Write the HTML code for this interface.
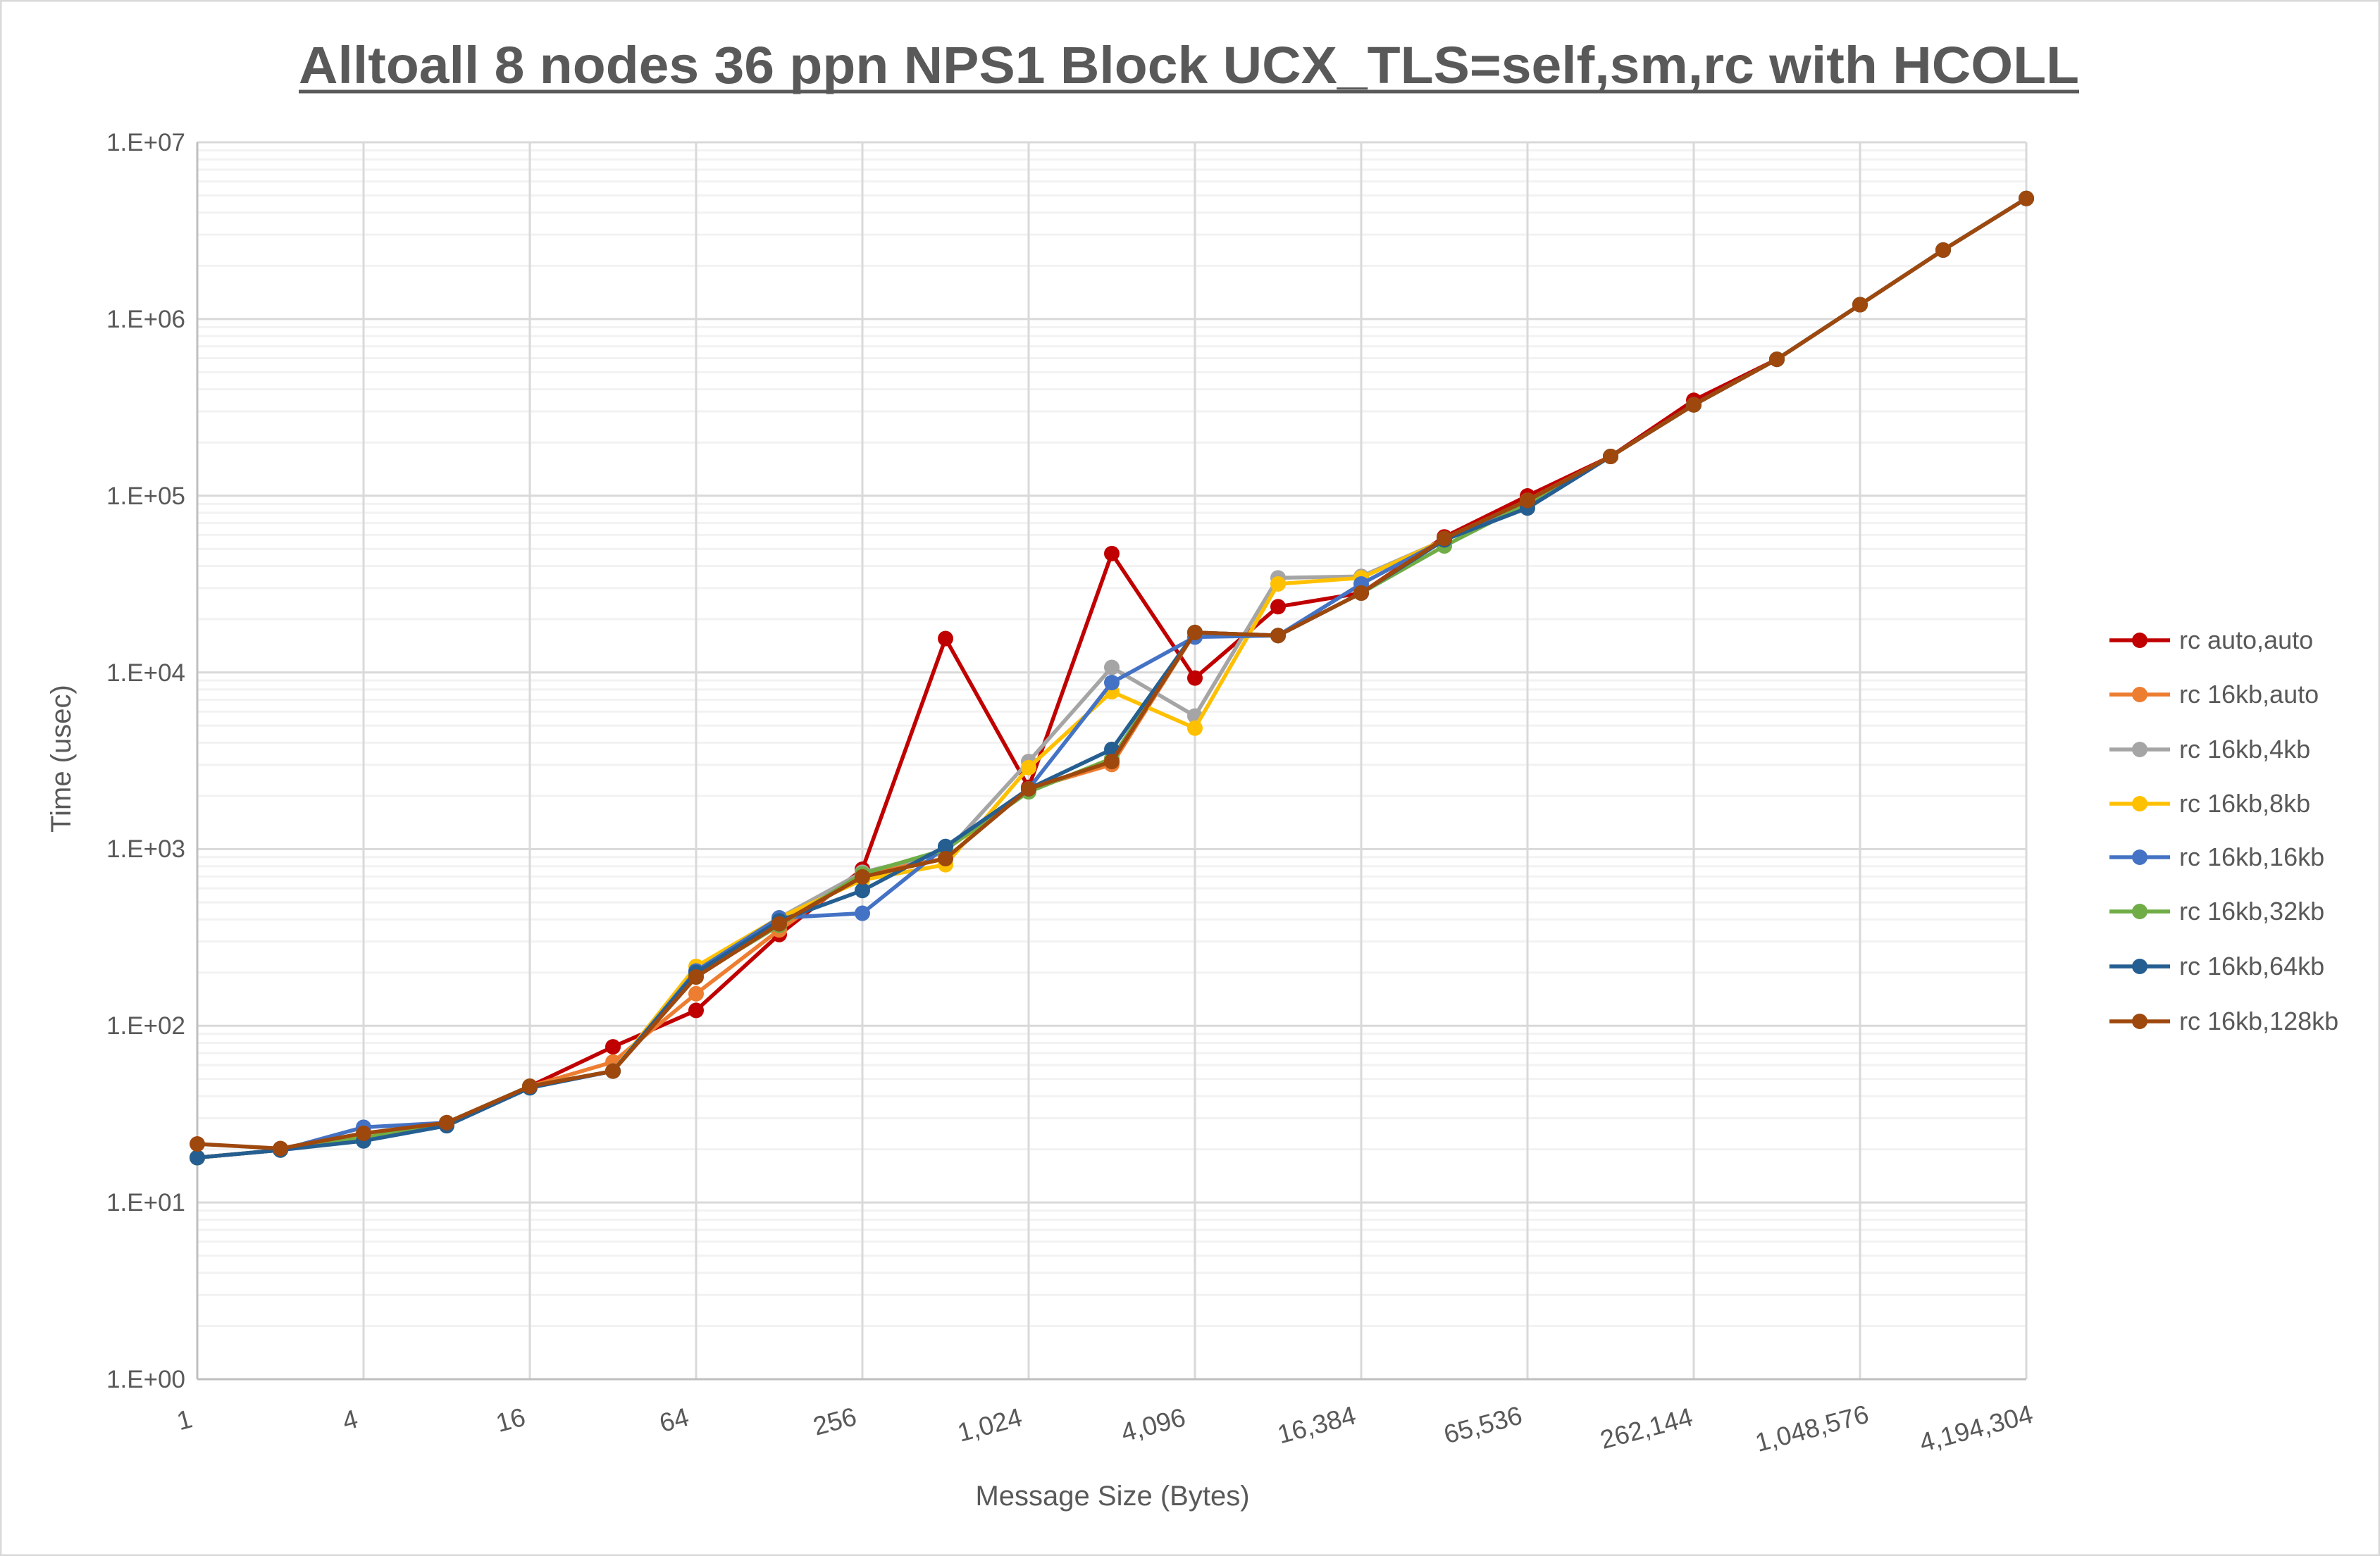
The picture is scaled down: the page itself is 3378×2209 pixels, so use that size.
<!DOCTYPE html>
<html><head><meta charset="utf-8"><style>
html,body{margin:0;padding:0;background:#fff}
svg{display:block}
text{font-family:"Liberation Sans",sans-serif;fill:#595959}
</style></head><body>
<svg id="s" width="3378" height="2209" viewBox="0 0 3378 2209" xmlns="http://www.w3.org/2000/svg">
<rect x="1" y="1" width="3376" height="2207" fill="#fff" stroke="#D9D9D9" stroke-width="3"/>
<g id="grid"></g>
<g id="series"></g>
<text x="424" y="118" font-size="74" font-weight="bold" textLength="2527" lengthAdjust="spacingAndGlyphs" style="fill:#595959">Alltoall 8 nodes 36 ppn NPS1 Block UCX_TLS=self,sm,rc with HCOLL</text>
<line x1="424" y1="130" x2="2951" y2="130" stroke="#595959" stroke-width="5"/>
<g font-size="35" text-anchor="end">
<text x="263" y="214">1.E+07</text>
<text x="263" y="465">1.E+06</text>
<text x="263" y="716">1.E+05</text>
<text x="263" y="967">1.E+04</text>
<text x="263" y="1217">1.E+03</text>
<text x="263" y="1468">1.E+02</text>
<text x="263" y="1719">1.E+01</text>
<text x="263" y="1970">1.E+00</text>
</g>
<g font-size="37" text-anchor="middle">
<text transform="translate(265,2028) rotate(-15)">1</text>
<text transform="translate(500,2028) rotate(-15)">4</text>
<text transform="translate(728,2028) rotate(-15)">16</text>
<text transform="translate(960,2028) rotate(-15)">64</text>
<text transform="translate(1188,2030) rotate(-15)">256</text>
<text transform="translate(1408,2035) rotate(-15)">1,024</text>
<text transform="translate(1640,2035) rotate(-15)">4,096</text>
<text transform="translate(1872,2035) rotate(-15)">16,384</text>
<text transform="translate(2108,2035) rotate(-15)">65,536</text>
<text transform="translate(2340,2040) rotate(-15)">262,144</text>
<text transform="translate(2575,2040) rotate(-15)">1,048,576</text>
<text transform="translate(2808,2040) rotate(-15)">4,194,304</text>
</g>
<text x="1579" y="2137" font-size="40" text-anchor="middle">Message Size (Bytes)</text>
<text transform="translate(100,1077) rotate(-90)" font-size="40" text-anchor="middle">Time (usec)</text>
<g id="legend"></g>
<g font-size="36">
<text x="3093" y="921">rc auto,auto</text>
<text x="3093" y="998">rc 16kb,auto</text>
<text x="3093" y="1076">rc 16kb,4kb</text>
<text x="3093" y="1153">rc 16kb,8kb</text>
<text x="3093" y="1229">rc 16kb,16kb</text>
<text x="3093" y="1306">rc 16kb,32kb</text>
<text x="3093" y="1384">rc 16kb,64kb</text>
<text x="3093" y="1462">rc 16kb,128kb</text>
</g>
</svg>
<script>
var NS="http://www.w3.org/2000/svg";
var L=280,R=2876,T=202,B=1958,D=(B-T)/7;
function el(p,n,a){var e=document.createElementNS(NS,n);for(var k in a)e.setAttribute(k,a[k]);p.appendChild(e);return e;}
var g=document.getElementById('grid');
for(var d=0;d<7;d++){for(var m=2;m<10;m++){var y=B-(d+Math.log10(m))*D;el(g,'line',{x1:L,x2:R,y1:y,y2:y,stroke:'#F2F2F2','stroke-width':3});}}
for(var i=2;i<=22;i+=2){var x=L+i*(R-L)/22;el(g,'line',{x1:x,x2:x,y1:T,y2:B,stroke:'#D9D9D9','stroke-width':3});}
for(var d=0;d<7;d++){var y=T+d*D;el(g,'line',{x1:L,x2:R,y1:y,y2:y,stroke:'#D9D9D9','stroke-width':3});}
el(g,'line',{x1:L,x2:L,y1:T,y2:B,stroke:'#BFBFBF','stroke-width':3});
el(g,'line',{x1:L,x2:R,y1:B,y2:B,stroke:'#BFBFBF','stroke-width':3});
var S=[
['#C00000',[763,758,750,740,716,690,666,616,573,421,519,365,447,400,391,354,327,301,264,237,201,165,131]],
['#ED7D31',[763,758,750,740,716,700,655,613,575,566,520,504,417,419,391,355,330,301,267,237,201,165,131]],
['#A5A5A5',[763,758,748,740,716,706,640,605,575,562,502,440,472,381,380,356,330,301,267,237,201,165,131]],
['#FFC000',[763,758,748,740,716,706,637,605,580,570,506,456,480,385,381,356,330,301,267,237,201,165,131]],
['#4472C4',[763,758,743,740,716,706,640,605,602,558,520,450,420,419,385,356,332,301,267,237,201,165,131]],
['#70AD47',[763,758,750,740,716,706,643,610,576,560,522,500,417,419,391,360,332,301,267,237,201,165,131]],
['#255E91',[763,758,752,742,717,706,641,607,587,558,520,494,417,419,391,356,335,301,267,237,201,165,131]],
['#9E480E',[754,757,747,740,716,706,644,609,578,566,520,502,417,419,391,355,330,301,267,237,201,165,131]]];
var sg=document.getElementById('series'),lg=document.getElementById('legend');
var ly=[909,986,1064,1141,1217,1294,1372,1450];
S.forEach(function(s,k){
 var pts=s[1].map(function(v,i){return [L+i*(R-L)/22, T+(v-94)*(1756/815)];});
 el(sg,'polyline',{points:pts.map(function(p){return p.join(',')}).join(' '),fill:'none',stroke:s[0],'stroke-width':5.5,'stroke-linejoin':'round'});
 pts.forEach(function(p){el(sg,'circle',{cx:p[0],cy:p[1],r:11,fill:s[0]});});
 el(lg,'line',{x1:2994,x2:3080,y1:ly[k],y2:ly[k],stroke:s[0],'stroke-width':5.5});
 el(lg,'circle',{cx:3037,cy:ly[k],r:11,fill:s[0]});
});
</script>
</body></html>
